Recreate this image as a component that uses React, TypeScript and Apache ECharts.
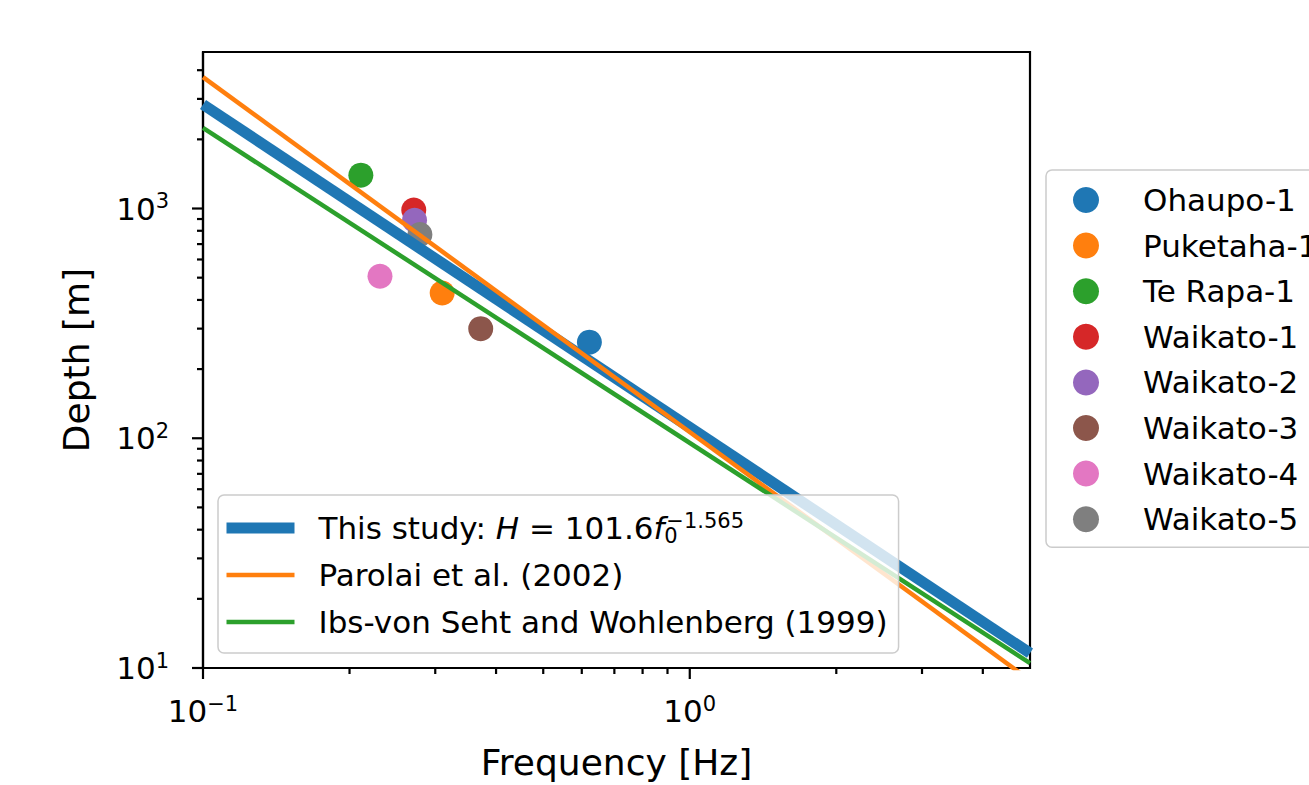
import React, { useEffect, useRef } from 'react';
import * as echarts from 'echarts';

const siteNames = ['Ohaupo-1', 'Puketaha-1', 'Te Rapa-1', 'Waikato-1', 'Waikato-2', 'Waikato-3', 'Waikato-4', 'Waikato-5'];
const siteFreq = [0.622, 0.31, 0.211, 0.271, 0.272, 0.372, 0.231, 0.279];
const siteDepth = [262, 429, 1397, 984, 889, 300, 507, 771];
const siteColors = ['#1f77b4', '#ff7f0e', '#2ca02c', '#d62728', '#9467bd', '#8c564b', '#e377c2', '#7f7f7f'];

const curveNames = ['This study', 'Parolai et al. (2002)', 'Ibs-von Seht and Wohlenberg (1999)'];
const curveFreq = [0.1, 5.0];
const thisStudyDepth = [2837, 11.6];
const parolaiDepth = [3733, 8.85];
const ibsDepth = [2243, 10.5];
const curveDepths = [thisStudyDepth, parolaiDepth, ibsDepth];
const curveColors = ['#1f77b4', '#ff7f0e', '#2ca02c'];
const curveWidths = [11, 4.5, 4.5];

const X_MIN = 0.1;
const X_MAX = 5.0;
const Y_MIN = 10;
const Y_MAX = 4800;

const xMajorTicks = [0.1, 1];
const xMinorTicks = [0.2, 0.3, 0.4, 0.5, 0.6, 0.7, 0.8, 0.9, 2, 3, 4];
const yMajorTicks = [10, 100, 1000];
const yMinorTicks = [20, 30, 40, 50, 60, 70, 80, 90, 200, 300, 400, 500, 600, 700, 800, 900, 2000, 3000, 4000];

const FONT = 'DejaVu Sans';

function powLabel(v: number) {
  const e = Math.log10(v);
  const r = Math.round(e);
  if (Math.abs(e - r) > 1e-6) return '';
  const s = r < 0 ? '\u2212' + Math.abs(r) : String(r);
  return '{b|10}{s|' + s + '}';
}

const tickRich = {
  b: { fontFamily: FONT, fontSize: 31, color: '#000', lineHeight: 36 },
  s: { fontFamily: FONT, fontSize: 21, color: '#000', lineHeight: 22, verticalAlign: 'top' },
};

function tickSeries(values: number[], axis: 'x' | 'y', len: number) {
  return {
    type: 'custom',
    silent: true,
    clip: false,
    z: 6,
    data: values.map((v) => (axis === 'x' ? [v, Y_MIN] : [X_MIN, v])),
    renderItem: (params: any, api: any) => {
      const p = api.coord([api.value(0), api.value(1)]);
      const shape =
        axis === 'x'
          ? { x1: p[0], y1: p[1], x2: p[0], y2: p[1] + len }
          : { x1: p[0], y1: p[1], x2: p[0] - len, y2: p[1] };
      return { type: 'line', shape, style: { stroke: '#000', lineWidth: 2.2 } };
    },
  };
}

export default function App() {
  const ref = useRef<HTMLDivElement>(null);
  useEffect(() => {
    if (!ref.current) return;
    const chart = echarts.init(ref.current, null, { renderer: 'svg' });
    const lineSeries = curveNames.map((name, i) => ({
      name,
      type: 'line',
      z: 3,
      symbol: 'none',
      showSymbol: false,
      clip: true,
      data: curveFreq.map((f, j) => [f, curveDepths[i][j]]),
      lineStyle: { color: curveColors[i], width: curveWidths[i], cap: 'butt' },
      itemStyle: { color: curveColors[i] },
    }));
    const scatterSeries = siteNames.map((name, i) => ({
      name,
      type: 'scatter',
      z: 2,
      symbol: 'circle',
      symbolSize: 25,
      data: [[siteFreq[i], siteDepth[i]]],
      itemStyle: { color: siteColors[i], opacity: 1 },
    }));
    chart.setOption({
      animation: false,
      backgroundColor: '#ffffff',
      grid: {
        left: 203,
        right: 1309 - 1030,
        top: 52,
        bottom: 785 - 668,
        show: true,
        borderColor: '#000',
        borderWidth: 2.2,
        backgroundColor: 'transparent',
      },
      xAxis: {
        type: 'log',
        logBase: 10,
        min: X_MIN,
        max: X_MAX,
        name: 'Frequency [Hz]',
        nameLocation: 'middle',
        nameGap: 76,
        nameTextStyle: { fontFamily: FONT, fontSize: 36, color: '#000' },
        axisLine: { show: true, lineStyle: { color: '#000', width: 2.2 } },
        axisTick: { show: false },
        splitLine: { show: false },
        minorTick: { show: false },
        axisLabel: {
          margin: 25,
          formatter: (v: number) => powLabel(v),
          rich: tickRich,
          showMaxLabel: false,
        },
      },
      yAxis: {
        type: 'log',
        logBase: 10,
        min: Y_MIN,
        max: Y_MAX,
        name: 'Depth [m]',
        nameLocation: 'middle',
        nameGap: 109,
        nameTextStyle: { fontFamily: FONT, fontSize: 36, color: '#000' },
        axisLine: { show: true, lineStyle: { color: '#000', width: 2.2 } },
        axisTick: { show: false },
        splitLine: { show: false },
        minorTick: { show: false },
        axisLabel: {
          margin: 34,
          formatter: (v: number) => powLabel(v),
          rich: tickRich,
          showMaxLabel: false,
        },
      },
      legend: [
        {
          orient: 'vertical',
          left: 218,
          top: 495,
          padding: [15, 11, 13, 3],
          itemGap: 11,
          itemWidth: 68,
          itemHeight: 14,
          selectedMode: false,
          backgroundColor: 'rgba(255,255,255,0.8)',
          borderColor: '#cccccc',
          borderWidth: 1.5,
          borderRadius: 6,
          data: curveNames,
          itemStyle: { opacity: 0, borderWidth: 0 },
          lineStyle: { width: 'inherit', opacity: 1 },
          textStyle: {
            fontFamily: FONT,
            fontSize: 31,
            color: '#000',
            lineHeight: 36,
            padding: [0, 0, 0, 19],
            rich: {
              n: { fontFamily: FONT, fontSize: 31, color: '#000', lineHeight: 36 },
              i: { fontFamily: FONT, fontSize: 31, color: '#000', fontStyle: 'italic', lineHeight: 36 },
              sub: { fontFamily: FONT, fontSize: 21, color: '#000', lineHeight: 22, verticalAlign: 'bottom', width: 2 },
              sup: { fontFamily: FONT, fontSize: 21, color: '#000', lineHeight: 22, verticalAlign: 'top' },
            },
          },
          formatter: (name: string) =>
            name === curveNames[0]
              ? '{n|This study: }{i|H}{n| = 101.6}{i|f}{sub|0}{sup|\u22121.565}'
              : name,
        },
        {
          orient: 'vertical',
          left: 1046,
          top: 170,
          padding: [12, 30, 10, 27],
          itemGap: 9.6,
          itemWidth: 68,
          itemHeight: 26,
          icon: 'circle',
          selectedMode: false,
          backgroundColor: 'rgba(255,255,255,0.8)',
          borderColor: '#cccccc',
          borderWidth: 1.5,
          borderRadius: 6,
          data: siteNames,
          textStyle: {
            fontFamily: FONT,
            fontSize: 31,
            color: '#000',
            lineHeight: 36,
            padding: [0, 0, 0, 18],
          },
        },
      ],
      series: [
        ...scatterSeries,
        ...lineSeries,
        tickSeries(xMajorTicks, 'x', 11),
        tickSeries(xMinorTicks, 'x', 6),
        tickSeries(yMajorTicks, 'y', 11),
        tickSeries(yMinorTicks, 'y', 6),
      ],
    });
    return () => chart.dispose();
  }, []);
  return (
    <div
      ref={ref}
      style={{ position: 'fixed', left: 0, top: 0, width: 1309, height: 785, background: '#fff' }}
    />
  );
}
